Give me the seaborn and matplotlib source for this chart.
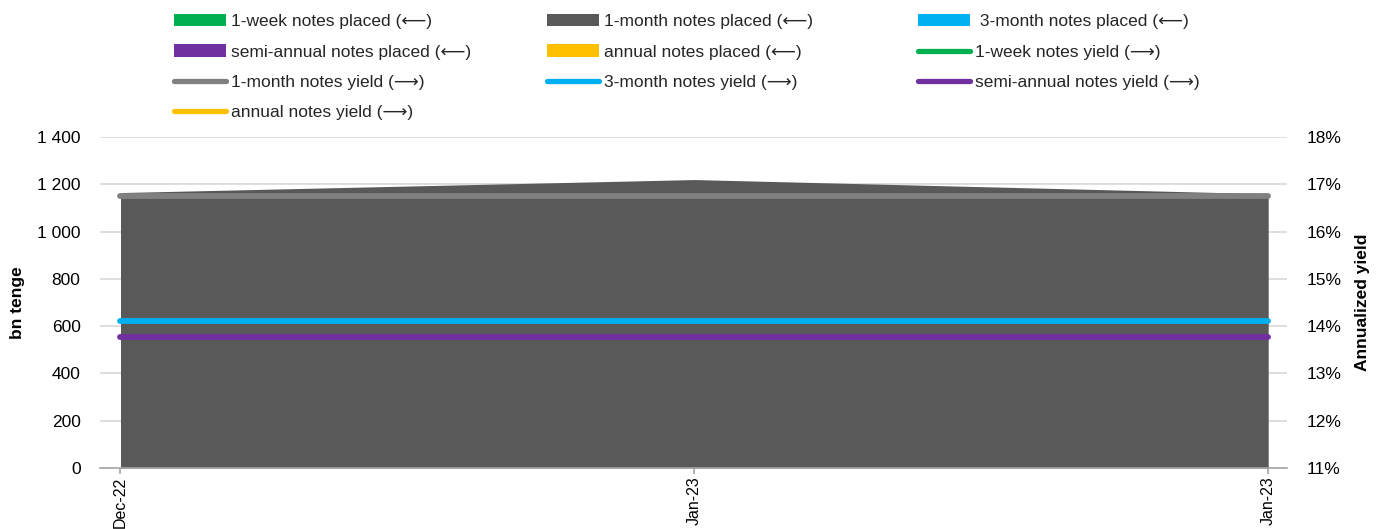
import numpy as np
import pandas as pd
import seaborn as sns
import matplotlib.pyplot as plt
import matplotlib.dates as mdates
from matplotlib.patches import Patch
from matplotlib.lines import Line2D

# data
dates = pd.to_datetime(['2022-12-29', '2023-01-12', '2023-01-26'])
placed_1w = [0, 0, 0]
placed_1m = [1165, 1220, 1160]
placed_3m = [0, 0, 0]
placed_6m = [0, 0, 0]
placed_12m = [0, 0, 0]
yield_1w = [np.nan, np.nan, np.nan]
yield_1m = [16.75, 16.75, 16.75]
yield_3m = [14.10, 14.10, 14.10]
yield_6m = [13.78, 13.78, 13.78]
yield_12m = [np.nan, np.nan, np.nan]
left_ticks = [0, 200, 400, 600, 800, 1000, 1200, 1400]
right_ticks = [11, 12, 13, 14, 15, 16, 17, 18]

GREEN = '#00B050'
DGRAY = '#595959'
CYAN = '#00B0F0'
PURPLE = '#7030A0'
YELLOW = '#FFC000'
LGRAY = '#808080'

sns.set_theme(style="white")
plt.rcParams['font.family'] = ['Liberation Sans', 'DejaVu Sans']
FS = 12.5
LARR, RARR = '\u27f5', '\u27f6'

fig = plt.figure(figsize=(13.79, 5.29), dpi=100)
ax = fig.add_axes([100 / 1379, 1 - 468 / 529, (1287 - 100) / 1379, (468 - 137) / 529])
ax2 = ax.twinx()

ax.stackplot(dates, placed_1w, placed_1m, placed_3m, placed_6m, placed_12m,
             colors=[GREEN, DGRAY, CYAN, PURPLE, YELLOW], lw=0)

for vals, col in [(yield_1w, GREEN), (yield_1m, LGRAY), (yield_3m, CYAN),
                  (yield_6m, PURPLE), (yield_12m, YELLOW)]:
    if np.all(np.isnan(vals)):
        continue
    sns.lineplot(x=dates, y=vals, ax=ax2, color=col, lw=4.2, solid_capstyle='round')

ax.set_ylim(0, 1400)
ax.set_yticks(left_ticks)
ax.set_yticklabels([f"{v:,}".replace(',', ' ') for v in left_ticks], fontsize=FS, color='black')
ax2.set_ylim(11, 18)
ax2.set_yticks(right_ticks)
ax2.set_yticklabels([f"{v}%" for v in right_ticks], fontsize=FS, color='black')

ax.set_xlim(dates[0] - pd.Timedelta(hours=12), dates[-1] + pd.Timedelta(hours=11))
ax.set_xticks(dates)
ax.xaxis.set_major_formatter(mdates.DateFormatter('%b-%y'))
for lab in ax.get_xticklabels():
    lab.set_rotation(90)
    lab.set_fontsize(11.5)
    lab.set_color('black')

ax.grid(axis='y', color='#D9D9D9', lw=1.2)
ax.grid(axis='x', visible=False)
ax2.grid(False)
ax.set_axisbelow(True)
for a in (ax, ax2):
    for s in ('top', 'left', 'right', 'bottom'):
        a.spines[s].set_visible(False)
ax.spines['bottom'].set_visible(True)
ax.spines['bottom'].set_color('#A6A6A6')
ax.spines['bottom'].set_linewidth(1.2)
ax.tick_params(axis='y', length=0, pad=14)
ax2.tick_params(axis='y', length=0, pad=14)
ax.tick_params(axis='x', length=4, color='#A6A6A6', width=1.2, pad=2, bottom=True)

ax.set_ylabel('bn tenge', fontsize=FS, fontweight='bold', labelpad=9, color='black')
ax2.set_ylabel('Annualized yield', fontsize=FS, fontweight='bold', labelpad=10, color='black')

# legend in three columns, row-major like the original
def patch(c):
    return Patch(facecolor=c, edgecolor='none')

def line(c):
    return Line2D([], [], color=c, lw=3.8, solid_capstyle='round')

columns = [
    ([patch(GREEN), patch(PURPLE), line(LGRAY), line(YELLOW)],
     [f'1-week notes placed ({LARR})', f'semi-annual notes placed ({LARR})',
      f'1-month notes yield ({RARR})', f'annual notes yield ({RARR})'], 174),
    ([patch(DGRAY), patch(YELLOW), line(CYAN)],
     [f'1-month notes placed ({LARR})', f'annual notes placed ({LARR})',
      f'3-month notes yield ({RARR})'], 547),
    ([patch(CYAN), line(GREEN), line(PURPLE)],
     [f' 3-month notes placed ({LARR})', f'1-week notes yield ({RARR})',
      f'semi-annual notes yield ({RARR})'], 918),
]
for handles, labels, x0 in columns:
    fig.legend(handles, labels, loc='upper left', bbox_to_anchor=(x0 / 1379, 1 - 14 / 529),
               frameon=False, fontsize=FS, ncol=1, borderpad=0, borderaxespad=0,
               handlelength=3.0, handleheight=0.7, handletextpad=0.3, labelspacing=0.88)

fig.savefig('out.png', dpi=100)
